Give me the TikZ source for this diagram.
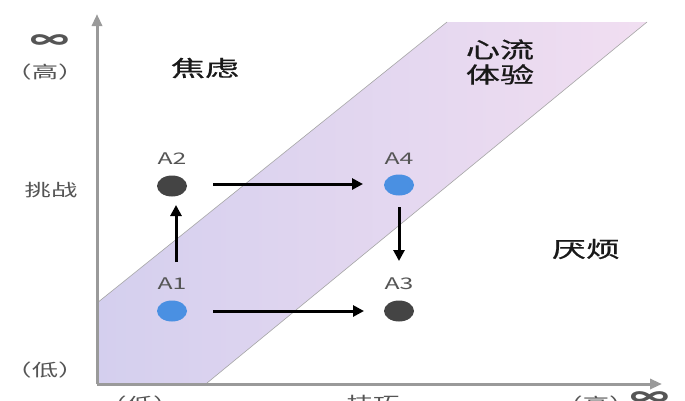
\documentclass[tikz,border=0pt]{standalone}
\usepackage{fontspec}
\usepackage{graphicx}
\setmainfont{Noto Sans CJK SC}
\newfontfamily\zonefont{Noto Sans CJK SC}[FakeBold=0.7]
\newcommand\hstretch[1]{\scalebox{1.55}[1]{#1}}
\usetikzlibrary{arrows.meta,shapes.geometric}
\definecolor{bandL}{HTML}{D4CFEE}
\definecolor{bandR}{HTML}{F1DEF1}
\definecolor{axisgray}{HTML}{9A9A9A}
\definecolor{labgray}{HTML}{555555}
\definecolor{dotblue}{HTML}{4A90E2}
\definecolor{dotdark}{HTML}{444444}
\tikzset{
  axisline/.style={draw=axisgray,line width=3pt,-{Triangle[length=12pt,width=10pt]}},
  bandedge/.style={draw=black!35,line width=0.6pt},
  dotnode/.style={ellipse,minimum width=30pt,minimum height=21pt,inner sep=0pt},
  bluedot/.style={dotnode,fill=dotblue},
  darkdot/.style={dotnode,fill=dotdark},
  ptlabel/.style={text=labgray,font=\fontsize{16}{16}\selectfont},
  sidelabel/.style={text=labgray,font=\fontsize{17}{17}\selectfont},
  inflabel/.style={text=labgray,font=\fontsize{25}{25}\selectfont\bfseries},
  zonelabel/.style={text=black!90,font=\fontsize{22}{25}\zonefont,align=center},
  movearrow/.style={draw=black,line width=3pt,-{Triangle[length=11pt,width=11pt]}}
}
\begin{document}
\begin{tikzpicture}[x=1pt,y=-1pt]
\useasboundingbox (0,0) rectangle (685,400);
\clip (0,0) rectangle (685,400);
\fill[white] (0,0) rectangle (685,400);
% flow band
\shade[left color=bandL,right color=bandR] (97,303) -- (447,22) -- (647,22) -- (207,383) -- (97,383) -- cycle;
\coordinate (u1) at (97,303); \coordinate (u2) at (447,22);
\coordinate (l1) at (207,383); \coordinate (l2) at (647,22);
\draw[bandedge] (u1) -- (u2);
\draw[bandedge] (l1) -- (l2);
% axes
\coordinate (o) at (97,384);
\coordinate (ytip) at (97,14);
\coordinate (xtip) at (662,384);
\draw[axisline] (o) -- (ytip);
\draw[axisline] (o) -- (xtip);
% axis labels
\node[inflabel] (inf) at (50,42) {\hstretch{∞}};
\node[sidelabel] (hi) at (45,72) {\hstretch{（高）}};
\node[sidelabel] (chal) at (51,190) {\hstretch{挑战}};
\node[sidelabel] (lo) at (45,370) {\hstretch{（低）}};
\node[sidelabel,anchor=north] (xlo) at (140,392) {\hstretch{（低）}};
\node[sidelabel,anchor=north] (skill) at (373,392) {\hstretch{技巧}};
\node[sidelabel,anchor=north] (xhi) at (596,392) {\hstretch{（高）}};
\node[inflabel,anchor=north] (xinf) at (650,388) {\hstretch{∞}};
% zone labels
\node[zonelabel] (anx) at (205,68) {\hstretch{焦虑}};
\node[zonelabel] (flow) at (500,62) {\hstretch{心流}\\\hstretch{体验}};
\node[zonelabel] (bore) at (586,249) {\hstretch{厌烦}};
% points
\node[darkdot] (A2) at (172,186) {};
\node[bluedot] (A4) at (399,185) {};
\node[bluedot] (A1) at (172,311) {};
\node[darkdot] (A3) at (399,311) {};
\node[ptlabel] (lA2) at (172,159) {\hstretch{A2}};
\node[ptlabel] (lA4) at (399,159) {\hstretch{A4}};
\node[ptlabel] (lA1) at (172,284) {\hstretch{A1}};
\node[ptlabel] (lA3) at (399,284) {\hstretch{A3}};
% arrow end points
\coordinate (a24s) at (213,184); \coordinate (a24e) at (363,184);
\coordinate (a43s) at (399,207); \coordinate (a43e) at (399,261);
\coordinate (a12s) at (176,262); \coordinate (a12e) at (176,205);
\coordinate (a13s) at (213,311); \coordinate (a13e) at (364,311);
% moves
\draw[movearrow] (a24s) -- (a24e);
\draw[movearrow] (a43s) -- (a43e);
\draw[movearrow] (a12s) -- (a12e);
\draw[movearrow] (a13s) -- (a13e);
\end{tikzpicture}
\end{document}
